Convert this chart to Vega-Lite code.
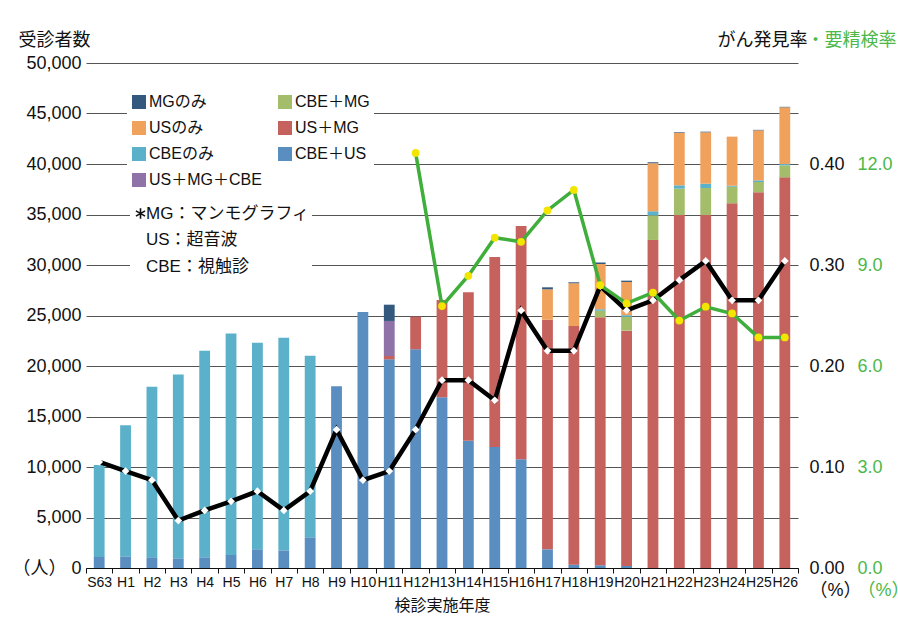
{
  "$schema": "https://vega.github.io/schema/vega-lite/v6.json",
  "width": 712,
  "height": 505,
  "autosize": "none",
  "padding": {"left": 86, "top": 63, "right": 100, "bottom": 54},
  "background": "white",
  "config": {
    "font": "Liberation Sans, Noto Sans CJK JP",
    "view": {"stroke": null},
    "axis": {"labelColor": "#111", "titleColor": "#111", "titleFontWeight": "normal", "labelFont": "Liberation Sans, Noto Sans CJK JP", "titleFont": "Liberation Sans, Noto Sans CJK JP"},
    "legend": {"labelFont": "Liberation Sans, Noto Sans CJK JP", "labelColor": "#111"}
  },
  "datasets": {
    "bars": [
      {"yr": "S63", "type": "CBE＋US", "n": 1100}, {"yr": "S63", "type": "CBEのみ", "n": 9100},
      {"yr": "H1", "type": "CBE＋US", "n": 1150}, {"yr": "H1", "type": "CBEのみ", "n": 12980},
      {"yr": "H2", "type": "CBE＋US", "n": 1060}, {"yr": "H2", "type": "CBEのみ", "n": 16890},
      {"yr": "H3", "type": "CBE＋US", "n": 960}, {"yr": "H3", "type": "CBEのみ", "n": 18210},
      {"yr": "H4", "type": "CBE＋US", "n": 1060}, {"yr": "H4", "type": "CBEのみ", "n": 20460},
      {"yr": "H5", "type": "CBE＋US", "n": 1290}, {"yr": "H5", "type": "CBEのみ", "n": 21940},
      {"yr": "H6", "type": "CBE＋US", "n": 1850}, {"yr": "H6", "type": "CBEのみ", "n": 20460},
      {"yr": "H7", "type": "CBE＋US", "n": 1750}, {"yr": "H7", "type": "CBEのみ", "n": 21050},
      {"yr": "H8", "type": "CBE＋US", "n": 3040}, {"yr": "H8", "type": "CBEのみ", "n": 17980},
      {"yr": "H9", "type": "CBE＋US", "n": 17990},
      {"yr": "H10", "type": "CBE＋US", "n": 25350},
      {"yr": "H11", "type": "CBE＋US", "n": 20660}, {"yr": "H11", "type": "US＋MG", "n": 330}, {"yr": "H11", "type": "US＋MG＋CBE", "n": 3470}, {"yr": "H11", "type": "MGのみ", "n": 1610},
      {"yr": "H12", "type": "CBE＋US", "n": 21650}, {"yr": "H12", "type": "US＋MG", "n": 3230},
      {"yr": "H13", "type": "CBE＋US", "n": 16900}, {"yr": "H13", "type": "US＋MG", "n": 9630},
      {"yr": "H14", "type": "CBE＋US", "n": 12600}, {"yr": "H14", "type": "US＋MG", "n": 14690},
      {"yr": "H15", "type": "CBE＋US", "n": 11980}, {"yr": "H15", "type": "US＋MG", "n": 18810},
      {"yr": "H16", "type": "CBE＋US", "n": 10760}, {"yr": "H16", "type": "US＋MG", "n": 23100},
      {"yr": "H17", "type": "CBE＋US", "n": 1850}, {"yr": "H17", "type": "US＋MG", "n": 22730}, {"yr": "H17", "type": "USのみ", "n": 3010}, {"yr": "H17", "type": "MGのみ", "n": 200},
      {"yr": "H18", "type": "CBE＋US", "n": 330}, {"yr": "H18", "type": "US＋MG", "n": 23630}, {"yr": "H18", "type": "USのみ", "n": 4230}, {"yr": "H18", "type": "MGのみ", "n": 100},
      {"yr": "H19", "type": "CBE＋US", "n": 270}, {"yr": "H19", "type": "US＋MG", "n": 24550}, {"yr": "H19", "type": "CBE＋MG", "n": 660}, {"yr": "H19", "type": "CBEのみ", "n": 130}, {"yr": "H19", "type": "USのみ", "n": 4490}, {"yr": "H19", "type": "MGのみ", "n": 150},
      {"yr": "H20", "type": "CBE＋US", "n": 200}, {"yr": "H20", "type": "US＋MG", "n": 23300}, {"yr": "H20", "type": "CBE＋MG", "n": 1360}, {"yr": "H20", "type": "CBEのみ", "n": 170}, {"yr": "H20", "type": "USのみ", "n": 3290}, {"yr": "H20", "type": "MGのみ", "n": 130},
      {"yr": "H21", "type": "US＋MG", "n": 32480}, {"yr": "H21", "type": "CBE＋MG", "n": 2440}, {"yr": "H21", "type": "CBEのみ", "n": 400}, {"yr": "H21", "type": "USのみ", "n": 4750}, {"yr": "H21", "type": "MGのみ", "n": 100},
      {"yr": "H22", "type": "US＋MG", "n": 34950}, {"yr": "H22", "type": "CBE＋MG", "n": 2610}, {"yr": "H22", "type": "CBEのみ", "n": 330}, {"yr": "H22", "type": "USのみ", "n": 5210}, {"yr": "H22", "type": "MGのみ", "n": 60},
      {"yr": "H23", "type": "US＋MG", "n": 34950}, {"yr": "H23", "type": "CBE＋MG", "n": 2670}, {"yr": "H23", "type": "CBEのみ", "n": 430}, {"yr": "H23", "type": "USのみ", "n": 5090}, {"yr": "H23", "type": "MGのみ", "n": 60},
      {"yr": "H24", "type": "US＋MG", "n": 36110}, {"yr": "H24", "type": "CBE＋MG", "n": 1640}, {"yr": "H24", "type": "CBEのみ", "n": 100}, {"yr": "H24", "type": "USのみ", "n": 4860},
      {"yr": "H25", "type": "US＋MG", "n": 37200}, {"yr": "H25", "type": "CBE＋MG", "n": 1020}, {"yr": "H25", "type": "CBEのみ", "n": 160}, {"yr": "H25", "type": "USのみ", "n": 4950}, {"yr": "H25", "type": "MGのみ", "n": 50},
      {"yr": "H26", "type": "US＋MG", "n": 38680}, {"yr": "H26", "type": "CBE＋MG", "n": 1190}, {"yr": "H26", "type": "CBEのみ", "n": 130}, {"yr": "H26", "type": "USのみ", "n": 5610}, {"yr": "H26", "type": "MGのみ", "n": 50}
    ],
    "det": [
      {"yr": "S63", "rate": 0.105}, {"yr": "H1", "rate": 0.096}, {"yr": "H2", "rate": 0.087}, {"yr": "H3", "rate": 0.047},
      {"yr": "H4", "rate": 0.057}, {"yr": "H5", "rate": 0.066}, {"yr": "H6", "rate": 0.076}, {"yr": "H7", "rate": 0.057},
      {"yr": "H8", "rate": 0.076}, {"yr": "H9", "rate": 0.137}, {"yr": "H10", "rate": 0.087}, {"yr": "H11", "rate": 0.096},
      {"yr": "H12", "rate": 0.137}, {"yr": "H13", "rate": 0.186}, {"yr": "H14", "rate": 0.186}, {"yr": "H15", "rate": 0.166},
      {"yr": "H16", "rate": 0.255}, {"yr": "H17", "rate": 0.215}, {"yr": "H18", "rate": 0.215}, {"yr": "H19", "rate": 0.279},
      {"yr": "H20", "rate": 0.255}, {"yr": "H21", "rate": 0.265}, {"yr": "H22", "rate": 0.285}, {"yr": "H23", "rate": 0.304},
      {"yr": "H24", "rate": 0.265}, {"yr": "H25", "rate": 0.265}, {"yr": "H26", "rate": 0.304}
    ],
    "req": [
      {"yr": "H12", "rate": 12.33}, {"yr": "H13", "rate": 7.78}, {"yr": "H14", "rate": 8.68}, {"yr": "H15", "rate": 9.81},
      {"yr": "H16", "rate": 9.69}, {"yr": "H17", "rate": 10.62}, {"yr": "H18", "rate": 11.23}, {"yr": "H19", "rate": 8.40},
      {"yr": "H20", "rate": 7.86}, {"yr": "H21", "rate": 8.18}, {"yr": "H22", "rate": 7.35}, {"yr": "H23", "rate": 7.76},
      {"yr": "H24", "rate": 7.56}, {"yr": "H25", "rate": 6.85}, {"yr": "H26", "rate": 6.85}
    ],
    "notes": [
      {"note": "MG：マンモグラフィ"},
      {"note": "US：超音波"},
      {"note": "CBE：視触診"}
    ]
  },
  "layer": [
    {
      "data": {"name": "bars"},
      "transform": [
        {"calculate": "indexof(['CBE＋US','US＋MG','CBE＋MG','US＋MG＋CBE','CBEのみ','USのみ','MGのみ'], datum.type)", "as": "k"}
      ],
      "mark": {"type": "bar", "width": {"band": 0.41}},
      "encoding": {
        "x": {
          "field": "yr", "type": "ordinal",
          "scale": {"domain": ["S63","H1","H2","H3","H4","H5","H6","H7","H8","H9","H10","H11","H12","H13","H14","H15","H16","H17","H18","H19","H20","H21","H22","H23","H24","H25","H26"], "paddingInner": 0, "paddingOuter": 0},
          "axis": {
            "title": "検診実施年度", "titleFontSize": 16, "titlePadding": 8,
            "labelAngle": 0, "labelFontSize": 14, "labelPadding": 2, "labelOverlap": false,
            "tickBand": "extent", "tickSize": 5, "tickColor": "#111", "domainColor": "#111", "grid": false
          }
        },
        "y": {
          "field": "n", "type": "quantitative", "stack": "zero",
          "scale": {"domain": [0, 50000], "nice": false},
          "axis": {
            "orient": "left", "values": [0,5000,10000,15000,20000,25000,30000,35000,40000,45000,50000],
            "grid": true, "gridColor": "#555", "gridWidth": 1, "ticks": false, "domain": false,
            "labelFontSize": 18, "labelPadding": 5,
            "labelExpr": "datum.value == 0 ? '（人）  0' : format(datum.value, ',.0f')",
            "title": "受診者数", "titleFontSize": 18, "titleAngle": 0, "titleAlign": "left", "titleBaseline": "middle",
            "titleX": -68, "titleY": -23
          }
        },
        "order": {"field": "k", "type": "quantitative", "sort": "ascending"},
        "color": {
          "field": "type", "type": "nominal",
          "scale": {
            "domain": ["MGのみ", "USのみ", "CBEのみ", "US＋MG＋CBE", "CBE＋MG", "US＋MG", "CBE＋US"],
            "range": ["#34597f", "#f0a15b", "#5ab1c9", "#8e72a8", "#a3bd6b", "#c6625e", "#5b8ec0"]
          },
          "legend": {
            "orient": "none", "legendX": 41, "legendY": 27, "columns": 2, "title": null,
            "symbolType": "square", "symbolSize": 196, "symbolStrokeWidth": 0, "symbolOpacity": 1,
            "labelFontSize": 16, "labelOffset": 2, "labelLimit": 200,
            "rowPadding": 10, "columnPadding": 15, "padding": 4, "fillColor": "white"
          }
        }
      }
    },
    {
      "data": {"name": "notes"},
      "mark": {"type": "point", "opacity": 0},
      "encoding": {
        "shape": {
          "field": "note", "type": "nominal",
          "scale": {
            "domain": ["MG：マンモグラフィ", "US：超音波", "CBE：視触診"],
            "range": ["M0,-1L0,1M-0.87,-0.5L0.87,0.5M-0.87,0.5L0.87,-0.5", "M0,0", "M0,0"]
          },
          "legend": {
            "orient": "none", "legendX": 44, "legendY": 140, "title": null,
            "symbolOpacity": 1, "symbolSize": 110, "symbolStrokeColor": "#111", "symbolFillColor": "transparent", "symbolStrokeWidth": 1.6,
            "labelOffset": -3, "labelFontSize": 17, "labelLimit": 300,
            "rowPadding": 8.5, "padding": 2, "fillColor": "white"
          }
        }
      }
    },
    {
      "data": {"name": "det"},
      "encoding": {
        "x": {"field": "yr", "type": "ordinal"},
        "y": {
          "field": "rate", "type": "quantitative",
          "scale": {"domain": [0, 0.5], "nice": false},
          "axis": {
            "orient": "right", "values": [0, 0.1, 0.2, 0.3, 0.4], "grid": false, "ticks": false, "domain": false,
            "labelFontSize": 18, "labelPadding": 11, "format": ".2f", "labelColor": "#111",
            "labelExpr": "datum.value == 0 ? ['0.00', '（%）'] : datum.label", "labelLineHeight": 22,
            "title": "がん発見率", "titleFontSize": 18, "titleAngle": 0, "titleAlign": "left", "titleBaseline": "middle",
            "titleX": -81, "titleY": -23
          }
        }
      },
      "layer": [
        {"mark": {"type": "line", "color": "#000", "strokeWidth": 4.5}},
        {"mark": {"type": "point", "shape": "diamond", "filled": true, "color": "white", "opacity": 1, "size": 60}}
      ]
    },
    {
      "data": {"name": "req"},
      "encoding": {
        "x": {"field": "yr", "type": "ordinal"},
        "y": {
          "field": "rate", "type": "quantitative",
          "scale": {"domain": [0, 15], "nice": false},
          "axis": {
            "orient": "right", "offset": 48, "values": [0, 3, 6, 9, 12], "grid": false, "ticks": false, "domain": false,
            "labelFontSize": 18, "labelPadding": 11, "format": ".1f", "labelColor": "#4cb848",
            "labelExpr": "datum.value == 0 ? ['0.0', '（%）'] : datum.label", "labelLineHeight": 22,
            "title": "・要精検率", "titleColor": "#4cb848", "titleFontSize": 18, "titleAngle": 0, "titleAlign": "left", "titleBaseline": "middle",
            "titleX": -40, "titleY": -23
          }
        }
      },
      "layer": [
        {"mark": {"type": "line", "color": "#3fae3a", "strokeWidth": 3.5}},
        {"mark": {"type": "point", "shape": "circle", "filled": true, "color": "#f2e600", "opacity": 1, "size": 60}}
      ]
    }
  ],
  "resolve": {"scale": {"y": "independent", "color": "independent", "shape": "independent"}}
}
